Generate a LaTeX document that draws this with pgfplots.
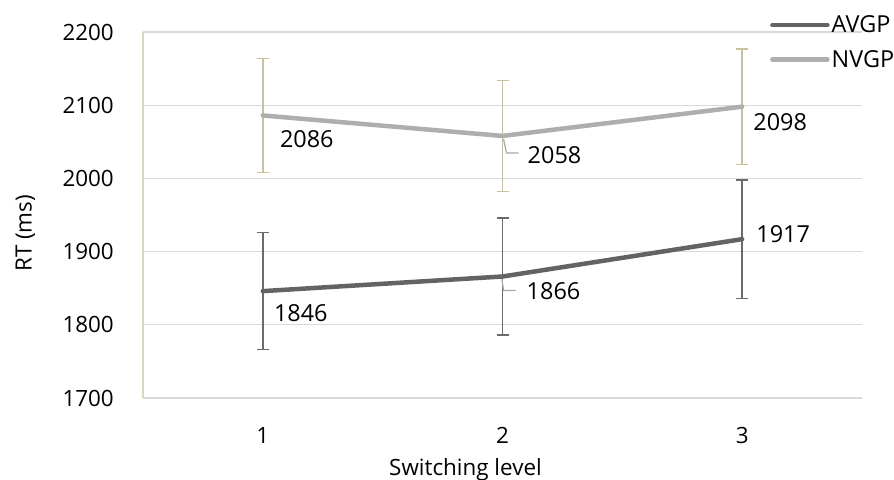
\documentclass[border=0pt]{standalone}
\usepackage{fontspec}
\setmainfont{Open Sans}
\usepackage{pgfplots}
\usepackage{pgfplotstable}
\pgfplotsset{compat=1.18}

\definecolor{avgp}{HTML}{636363}
\definecolor{nvgp}{HTML}{AEAEAE}
\definecolor{errA}{HTML}{6B6B6B}
\definecolor{errN}{HTML}{C9C19B}
\definecolor{gridc}{HTML}{D9D9D9}
\definecolor{axtan}{HTML}{DAD5BF}
\definecolor{leadc}{HTML}{A6A6A6}
\newcommand\fs{\fontsize{22.5}{27}\selectfont}
\newcommand\fl{\fontsize{23.5}{28}\selectfont}

\pgfplotstableread{
x y err
1 1846 80
2 1866 80
3 1917 81
}\avgpdata
\pgfplotstableread{
x y err
1 2086 78
2 2058 76
3 2098 79
}\nvgpdata
\pgfplotstableread{
x y dx dy lbl
1 1846 38 -22 1846
3 1917 41 5 1917
1 2086 44 -24 2086
3 2098 38 -15 2098
}\labelsplain
\pgfplotstableread{
x y dx dy lbl
2 2058 52 -19 2058
}\labelleadA
\pgfplotstableread{
x y dx dy lbl
2 1866 51 -15 1866
}\labelleadB

\begin{document}
\begin{tikzpicture}
\useasboundingbox (0,0) rectangle (894bp,480bp);
\begin{axis}[
  at={(143bp,82bp)}, anchor=south west,
  scale only axis, width=719bp, height=366bp,
  xmin=0.5, xmax=3.5, ymin=1700, ymax=2200,
  xtick={1,2,3}, ytick={1700,1800,...,2200},
  ymajorgrids, grid style={draw=gridc, line width=1.2bp},
  axis x line*=bottom, axis y line*=left,
  x axis line style={-, draw=gridc, line width=1.2bp},
  y axis line style={-, draw=axtan, line width=1.2bp},
  major tick length=0pt, tick style={draw=none},
  /pgf/number format/assume math mode=true,
  /pgf/number format/1000 sep={},
  ticklabel style={font=\fs},
  yticklabel style={inner sep=0pt, xshift=-29bp},
  xticklabel style={inner sep=0pt, yshift=-29bp},
  xlabel={Switching level}, ylabel={RT (ms)},
  label style={font=\fs},
  xlabel style={at={(axis description cs:0.4485,0)}, anchor=base, yshift=-77bp},
  ylabel style={at={(axis description cs:-0.155,0.45)}, anchor=base},
  legend style={at={(axis description cs:0.872,1.05)}, anchor=north west,
    draw=none, fill=none, inner sep=0pt, font=\fl, row sep=12bp},
  legend cell align=left,
  legend image code/.code={\draw[#1, line width=4.5bp, line cap=round] (0bp,0bp) -- (55bp,0bp);},
  clip=false,
]
% error bars (drawn beneath the lines)
\addplot[draw=none, forget plot, error bars/.cd, y dir=both, y explicit,
  error bar style={draw=errA, line width=1.5bp},
  error mark options={draw=errA, rotate=90, mark size=6bp, line width=1.5bp}]
  table[x=x, y=y, y error=err] {\avgpdata};
\addplot[draw=none, forget plot, error bars/.cd, y dir=both, y explicit,
  error bar style={draw=errN, line width=1.5bp},
  error mark options={draw=errN, rotate=90, mark size=6bp, line width=1.5bp}]
  table[x=x, y=y, y error=err] {\nvgpdata};
% lines
\addplot[avgp, line width=4.5bp, line cap=round, line join=round, mark=none]
  table[x=x, y=y] {\avgpdata};
\addlegendentry{AVGP}
\addplot[nvgp, line width=4.5bp, line cap=round, line join=round, mark=none]
  table[x=x, y=y] {\nvgpdata};
\addlegendentry{NVGP}
% data labels
\addplot[draw=none, forget plot, mark=none, point meta=explicit symbolic,
  visualization depends on={\thisrow{dx} \as \dx},
  visualization depends on={\thisrow{dy} \as \dy},
  nodes near coords,
  every node near coord/.append style={font=\fl, anchor=center, inner sep=0pt,
     xshift=\dx bp, yshift=\dy bp}]
  table[x=x, y=y, meta=lbl] {\labelsplain};
\addplot[draw=none, forget plot, mark=none, point meta=explicit symbolic,
  visualization depends on={\thisrow{dx} \as \dx},
  visualization depends on={\thisrow{dy} \as \dy},
  nodes near coords,
  every node near coord/.append style={font=\fl, anchor=center, inner sep=0pt,
     xshift=\dx bp, yshift=\dy bp,
     append after command={\pgfextra{\draw[leadc, line width=1.2bp]
        (\tikzlastnode.west) ++(-9bp,2bp) -- ++(-12bp,0bp) -- ++(-3bp,14bp);}}}]
  table[x=x, y=y, meta=lbl] {\labelleadA};
\addplot[draw=none, forget plot, mark=none, point meta=explicit symbolic,
  visualization depends on={\thisrow{dx} \as \dx},
  visualization depends on={\thisrow{dy} \as \dy},
  nodes near coords,
  every node near coord/.append style={font=\fl, anchor=center, inner sep=0pt,
     xshift=\dx bp, yshift=\dy bp,
     append after command={\pgfextra{\draw[leadc, line width=1.2bp]
        (\tikzlastnode.west) ++(-11bp,1bp) -- ++(-12bp,0bp) -- ++(-1.5bp,11bp);}}}]
  table[x=x, y=y, meta=lbl] {\labelleadB};
\end{axis}
\end{tikzpicture}
\end{document}
